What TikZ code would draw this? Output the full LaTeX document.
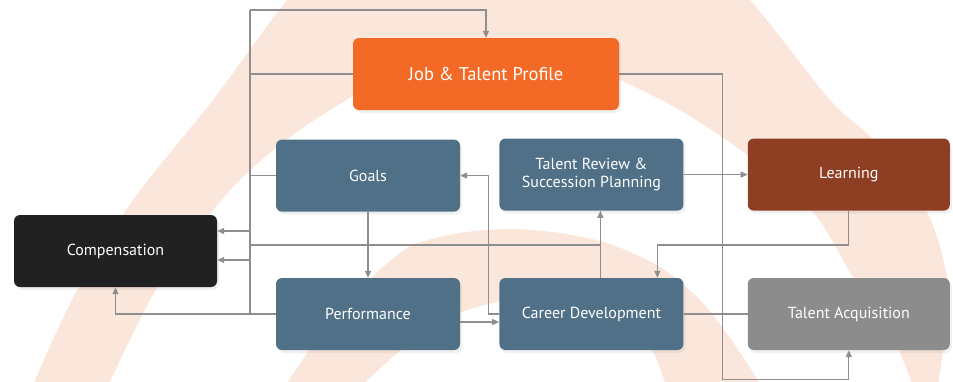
\documentclass[tikz,border=0pt]{standalone}
\usepackage{fontspec}
\setmainfont{PT Sans}
\usetikzlibrary{arrows.meta, positioning, calc, shadows}

\definecolor{profilorange}{HTML}{F26A25}
\definecolor{skiferblaa}{HTML}{4F7086}
\definecolor{rust}{HTML}{8E3E23}
\definecolor{nesten svart}{HTML}{212121}
\definecolor{midtgraa}{HTML}{8C8C8C}
\definecolor{linjegraa}{HTML}{8E8E8E}
\definecolor{fersken}{HTML}{FBE6DB}

\tikzset{
    %Define standard arrow tip
    >={Triangle[length=7pt,width=6pt]},
    %Define style for boxes
    boks/.style={
           rectangle,
           rounded corners=6pt,
           text=white,
           minimum width=184pt,
           minimum height=72pt,
           align=center,
           font=\fontsize{16}{18.5}\selectfont,
           drop shadow={shadow xshift=2pt, shadow yshift=-3pt, opacity=0.12}},
    % Define line styles
    linje/.style={
           draw=linjegraa,
           line width=1.3pt},
    pilen/.style={
           linje,
           ->}
}

\begin{document}
\begin{tikzpicture}[x=1pt, y=-1pt, node distance=39pt]
	\useasboundingbox (0,0) rectangle (953,381);
	%
	% bakgrunn
	%
	\begin{scope}
	\clip (0,0) rectangle (953,381);
	\fill[fersken, even odd rule]
	  plot[smooth] coordinates {(30,392) (72,300) (133,200) (213,100) (287,0) (360,-80) (515,-125) (670,-80) (750,0) (830,100) (873,140) (927,212) (947,277) (947,320) (937,392)} -- cycle
	  plot[smooth] coordinates {(105,392) (150,300) (190,240) (233,187) (277,147) (330,110) (400,72) (480,55) (560,58) (620,80) (683,112) (747,155) (813,212) (853,277) (890,330) (915,392)} -- cycle;
	\fill[fersken, even odd rule]
	  plot[smooth] coordinates {(281,392) (320,335) (350,300) (383,267) (413,245) (460,233) (510,229) (560,233) (610,244) (660,267) (700,300) (735,345) (765,392)} -- cycle
	  plot[smooth] coordinates {(355,392) (395,355) (430,328) (467,310) (520,298) (575,300) (625,322) (652,350) (668,392)} -- cycle;
	\end{scope}
	%
	% noder
	%
	\node[boks, fill=skiferblaa] (perf) at (368,314) {Performance};
	\node[boks, fill=skiferblaa, above=66pt of perf] (goals) {Goals};
	\node[boks, fill=skiferblaa, right=of perf] (career) {Career Development};
	\node[boks, fill=skiferblaa, above=67pt of career] (review) {Talent Review \&\\ Succession Planning};
	\node[boks, fill=midtgraa, minimum width=202pt, right=64pt of career] (acq) {Talent Acquisition};
	\node[boks, fill=rust, minimum width=202pt, right=64pt of review] (learn) {Learning};
	\node[boks, fill=nesten svart, minimum width=203pt] (comp) at (115.5,251) {Compensation};
	\node[boks, fill=profilorange, minimum width=266pt, font=\fontsize{18.5}{22}\selectfont] (job) at (486,74) {Job \& Talent Profile};
	%
	% linjer
	%
	\coordinate (bustop) at (250,10);
	\coordinate (midtlinje) at (0,245);
	\coordinate (cdup) at ([xshift=9pt]career.north);
	\draw[linje] (bustop) -- (bustop |- perf.west);
	\draw[pilen] (bustop) -| (job.north);
	\draw[linje] (job.west) -- (job.west -| bustop);
	\draw[linje] (goals.west) -- (goals.west -| bustop);
	\draw[pilen] ([yshift=20pt]comp.east -| bustop) -- ([yshift=20pt]comp.east);
	\draw[pilen] ([yshift=-9pt]comp.east -| bustop) -- ([yshift=-9pt]comp.east);
	\draw[pilen] (perf.west) -| (comp.south);
	\draw[pilen] (goals.south) -- (perf.north);
	\draw[pilen] ([yshift=-8pt]perf.east) -- ([yshift=-8pt]career.west);
	\draw[pilen] (career.west) -- ++(-11,0) |- (goals.east);
	\draw[pilen] (cdup) -- (cdup |- review.south);
	\draw[linje] (bustop |- midtlinje) -- (cdup |- midtlinje);
	\draw[pilen] (review.east) -- (learn.west);
	\draw[pilen] (learn.south) -- (learn.south |- midtlinje) -| ([xshift=66pt]career.north);
	\draw[pilen] (job.east) -- ++(103,0) |- ([yshift=-29pt]acq.south) -- (acq.south);
	\draw[linje] (career.east) -- (acq.west);
\end{tikzpicture}
\end{document}
